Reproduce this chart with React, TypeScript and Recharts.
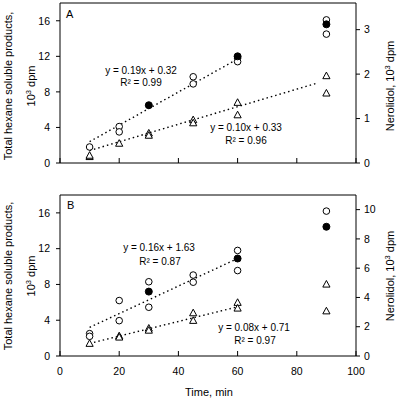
import React from 'react';
import { ScatterChart, Scatter, XAxis, YAxis, ReferenceLine } from 'recharts';

// Panel A (total hexane products on left axis, nerolidol on right axis)
const timeTicks = [0, 20, 40, 60, 80, 100];
const leftTicks = [0, 4, 8, 12, 16];
const rightTicksA = [0, 1, 2, 3];
const rightTicksB = [0, 2, 4, 6, 8, 10];

const aOpen = [[10, 1.8], [20, 4.1], [20, 3.5], [45, 9.7], [45, 8.9], [60, 11.8], [60, 11.4], [90, 16.1], [90, 14.5]];
const aFilled = [[30, 6.5], [60, 12.0], [90, 15.6]];
const aTriangles = [[10, 0.14], [10, 0.17], [20, 0.44], [30, 0.67], [30, 0.62], [45, 0.97], [45, 0.9], [60, 1.36], [60, 1.08], [90, 1.96], [90, 1.57]];
const aTrendTotal = [[10, 2.4], [60, 11.7]];
const aTrendNerolidol = [[10, 0.28], [87, 1.8]];

// Panel B
const bOpen = [[10, 2.5], [10, 2.2], [20, 6.2], [20, 3.95], [30, 8.3], [30, 5.45], [45, 9.05], [45, 8.25], [60, 11.8], [60, 9.55], [90, 16.2]];
const bFilled = [[30, 7.2], [60, 10.9], [90, 14.45]];
const bTriangles = [[10, 0.85], [20, 1.37], [20, 1.28], [30, 1.89], [30, 1.75], [45, 2.94], [45, 2.42], [60, 3.65], [60, 3.26], [90, 4.9], [90, 3.07]];
const bTrendTotal = [[10, 3.2], [60, 10.9]];
const bTrendNerolidol = [[10, 0.86], [60, 3.36]];

const toPts = (arr: number[][]) => arr.map(([x, y]) => ({ x, y }));

const FONT = '"Liberation Sans", Arial, sans-serif';

const OpenCircle = (p: any) => <circle cx={p.cx} cy={p.cy} r={3.3} fill="#fff" stroke="#000" strokeWidth={1} />;
const FilledCircle = (p: any) => <circle cx={p.cx} cy={p.cy} r={3.5} fill="#000" stroke="#000" strokeWidth={1} />;
const Triangle = (p: any) => (
  <polygon
    points={`${p.cx},${p.cy - 3.8} ${p.cx - 3.6},${p.cy + 2.8} ${p.cx + 3.6},${p.cy + 2.8}`}
    fill="#fff"
    stroke="#000"
    strokeWidth={1}
  />
);
const NoDot = () => <g />;

const trendLine = { stroke: '#000', strokeWidth: 1.4, strokeDasharray: '1.5 3' };

// x ticks point inward, labels only on lower panel
const makeTimeTick = (showLabel: boolean) => (props: any) => {
  const { x, y, payload } = props;
  return (
    <g>
      <line x1={x} x2={x} y1={y} y2={y - 5} stroke="#000" strokeWidth={1} />
      {showLabel && (
        <text x={x} y={y + 19} textAnchor="middle" fontSize={10.5} fill="#000" fontFamily={FONT}>
          {payload.value}
        </text>
      )}
    </g>
  );
};

interface PanelProps {
  height: number;
  margin: { top: number; right: number; bottom: number; left: number };
  xHeight: number;
  showXLabels: boolean;
  rightDomain: number[];
  rightTicks: number[];
  open: number[][];
  filled: number[][];
  triangles: number[][];
  trendTotal: number[][];
  trendNerolidol: number[][];
}

function Panel(p: PanelProps) {
  const tickStyle = { fontSize: 10.5, fill: '#000', fontFamily: FONT };
  return (
    <ScatterChart width={400} height={p.height} margin={p.margin}>
      <XAxis
        type="number"
        dataKey="x"
        domain={[0, 100]}
        ticks={timeTicks}
        height={p.xHeight}
        tickSize={0}
        tickMargin={0}
        tickLine={false}
        axisLine={{ stroke: '#000' }}
        tick={makeTimeTick(p.showXLabels)}
        interval={0}
      />
      <YAxis
        yAxisId="left"
        type="number"
        dataKey="y"
        domain={[0, 18]}
        ticks={leftTicks}
        width={30}
        tickSize={4}
        tickMargin={6}
        axisLine={{ stroke: '#000' }}
        tickLine={{ stroke: '#000' }}
        tick={tickStyle}
        interval={0}
      />
      <YAxis
        yAxisId="right"
        orientation="right"
        type="number"
        dataKey="y"
        domain={p.rightDomain}
        ticks={p.rightTicks}
        width={30}
        tickSize={4}
        tickMargin={4}
        axisLine={{ stroke: '#000' }}
        tickLine={{ stroke: '#000' }}
        tick={tickStyle}
        interval={0}
      />
      <ReferenceLine yAxisId="left" y={18} stroke="#000" strokeWidth={1} />
      <Scatter yAxisId="left" data={toPts(p.trendTotal)} shape={NoDot} line={trendLine} isAnimationActive={false} />
      <Scatter yAxisId="right" data={toPts(p.trendNerolidol)} shape={NoDot} line={trendLine} isAnimationActive={false} />
      <Scatter yAxisId="right" data={toPts(p.triangles)} shape={Triangle} isAnimationActive={false} />
      <Scatter yAxisId="left" data={toPts(p.open)} shape={OpenCircle} isAnimationActive={false} />
      <Scatter yAxisId="left" data={toPts(p.filled)} shape={FilledCircle} isAnimationActive={false} />
    </ScatterChart>
  );
}

export default function App() {
  const t = { fontFamily: FONT, fill: '#000' };
  return (
    <div style={{ position: 'absolute', left: 0, top: 0, width: 400, height: 400, background: '#fff' }}>
      <div style={{ position: 'absolute', left: 0, top: 0 }}>
        <Panel
          height={170}
          margin={{ top: 3, right: 14, bottom: 2, left: 30 }}
          xHeight={5}
          showXLabels={false}
          rightDomain={[0, 3.6]}
          rightTicks={rightTicksA}
          open={aOpen}
          filled={aFilled}
          triangles={aTriangles}
          trendTotal={aTrendTotal}
          trendNerolidol={aTrendNerolidol}
        />
      </div>
      <div style={{ position: 'absolute', left: 0, top: 190 }}>
        <Panel
          height={210}
          margin={{ top: 5, right: 14, bottom: 14, left: 30 }}
          xHeight={30}
          showXLabels={true}
          rightDomain={[0, 11]}
          rightTicks={rightTicksB}
          open={bOpen}
          filled={bFilled}
          triangles={bTriangles}
          trendTotal={bTrendTotal}
          trendNerolidol={bTrendNerolidol}
        />
      </div>
      <svg width={400} height={400} style={{ position: 'absolute', left: 0, top: 0, pointerEvents: 'none' }}>
        {/* panel letters */}
        <text x={66} y={18} fontSize={11} {...t}>A</text>
        <text x={67} y={209} fontSize={11} {...t}>B</text>

        {/* regression labels */}
        <text x={141} y={74} fontSize={10} textAnchor="middle" {...t}>y = 0.19x + 0.32</text>
        <text x={141} y={85.5} fontSize={10} textAnchor="middle" {...t}>R² = 0.99</text>
        <text x={246} y={130.5} fontSize={10} textAnchor="middle" {...t}>y = 0.10x + 0.33</text>
        <text x={246} y={144} fontSize={10} textAnchor="middle" {...t}>R² = 0.96</text>
        <text x={159} y={251} fontSize={10} textAnchor="middle" {...t}>y = 0.16x + 1.63</text>
        <text x={160} y={264.5} fontSize={10} textAnchor="middle" {...t}>R² = 0.87</text>
        <text x={254} y={330.5} fontSize={10} textAnchor="middle" {...t}>y = 0.08x + 0.71</text>
        <text x={255} y={344} fontSize={10} textAnchor="middle" {...t}>R² = 0.97</text>

        {/* left axis titles */}
        {[86, 276].map((cy) => (
          <g key={cy}>
            <text transform={`translate(12,${cy}) rotate(-90)`} textAnchor="middle" fontSize={11} {...t}>
              Total hexane soluble products,
            </text>
            <text transform={`translate(35,${cy}) rotate(-90)`} textAnchor="middle" fontSize={11} {...t}>
              10<tspan dy={-4} fontSize={7.5}>3</tspan><tspan dy={4}> dpm</tspan>
            </text>
            <text transform={`translate(394,${cy}) rotate(-90)`} textAnchor="middle" fontSize={11} {...t}>
              Nerolidol, 10<tspan dy={-4} fontSize={7.5}>3</tspan><tspan dy={4}> dpm</tspan>
            </text>
          </g>
        ))}

        <text x={209} y={396} fontSize={11} textAnchor="middle" {...t}>Time, min</text>
      </svg>
    </div>
  );
}
